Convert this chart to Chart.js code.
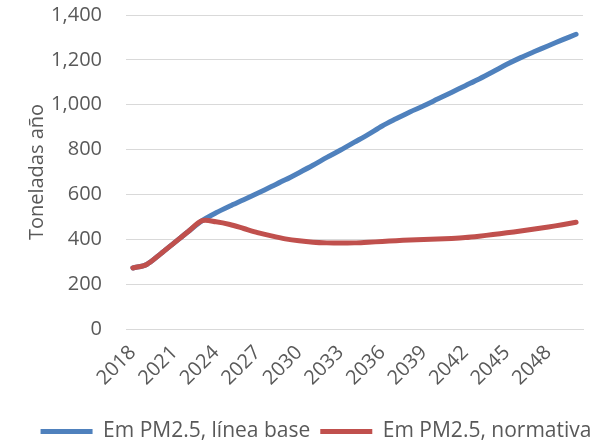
<!DOCTYPE html>
<html>
<head>
  <title>Toneladas año</title>
  <script src="https://cdn.jsdelivr.net/npm/chart.js"></script>
  <style>
    body {
      margin: 0;
      background: #ffffff;
    }
    #wrap {
      width: 607px;
      height: 443px;
    }
  </style>
</head>
<body>
  <div id="wrap"><canvas id="emChart"></canvas></div>
  <script>
    const years = [];
    for (let y = 2018; y <= 2050; y++) years.push(String(y));

    const lineaBase = [272, 288, 335, 385, 435, 483, 518, 548, 576, 605, 635, 665, 697, 730, 765, 798,
      833, 868, 905, 937, 968, 995, 1025, 1055, 1085, 1115, 1147, 1180, 1210, 1237, 1263, 1289, 1314];
    const normativa = [272, 288, 335, 385, 435, 483, 478, 466, 448, 430, 415, 402, 393, 387, 384, 383,
      384, 387, 390, 394, 397, 399, 401, 404, 408, 414, 421, 429, 437, 446, 455, 465, 476];

    const seriesNames = ['Em PM2.5, línea base', 'Em PM2.5, normativa'];
    const txt = '#595959';
    const font = {family: '"Open Sans", sans-serif', size: 20};

    new Chart(document.getElementById('emChart'), {
      type: 'line',
      data: {
        labels: years,
        datasets: [
          {
            label: seriesNames[0],
            data: lineaBase,
            borderColor: '#4F81BD',
            backgroundColor: '#4F81BD',
            borderWidth: 5,
            borderCapStyle: 'round',
            pointRadius: 0,
            tension: 0.3,
            order: 1
          },
          {
            label: seriesNames[1],
            data: normativa,
            borderColor: '#C0504D',
            backgroundColor: '#C0504D',
            borderWidth: 5,
            borderCapStyle: 'round',
            pointRadius: 0,
            tension: 0.3,
            order: 0
          }
        ]
      },
      options: {
        responsive: true,
        maintainAspectRatio: false,
        animation: false,
        layout: {
          // legend in the original sits right of centre, hence the uneven sides
          padding: {top: 15, right: 0, left: 25, bottom: -9}
        },
        scales: {
          x: {
            offset: true,
            grid: {display: false},
            border: {display: true, color: '#D9D9D9', width: 1},
            ticks: {
              autoSkip: false,
              maxRotation: 45,
              minRotation: 45,
              color: txt,
              font: font,
              padding: 4,
              callback: function(val, i) {
                return i % 3 === 0 ? this.getLabelForValue(val) : '';
              }
            },
            afterFit: (s) => {
              s.height = 82;
              s.paddingRight = 24;
            }
          },
          y: {
            min: 0,
            max: 1400,
            grid: {color: '#D9D9D9', drawTicks: false},
            border: {display: false},
            ticks: {
              stepSize: 200,
              color: txt,
              font: font,
              padding: 24,
              callback: (v) => v.toLocaleString('en-US')
            },
            title: {
              display: true,
              text: 'Toneladas año',
              color: txt,
              font: font,
              padding: {top: 0, bottom: 0}
            },
            afterFit: (s) => {
              s.width = 101;
              s.paddingTop = 0;
              s.paddingBottom = 0;
            }
          }
        },
        plugins: {
          legend: {
            position: 'bottom',
            labels: {
              color: txt,
              font: {family: '"Open Sans", sans-serif', size: 21},
              usePointStyle: true,
              pointStyleWidth: 52,
              pointStyle: 'line',
              padding: 10,
              sort: (a, b) => a.datasetIndex - b.datasetIndex
            }
          },
          tooltip: {enabled: false}
        }
      }
    });
  </script>
</body>
</html>
